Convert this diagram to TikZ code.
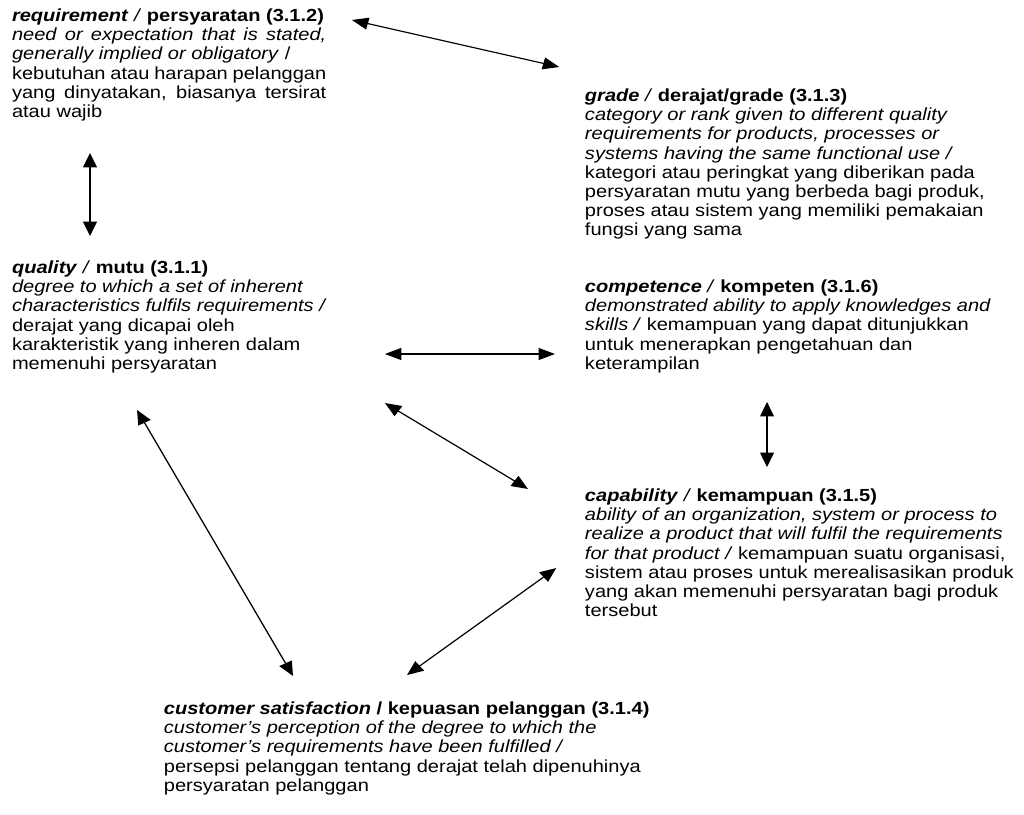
\documentclass[tikz,border=0pt]{standalone}
\usepackage{fontspec}
\setmainfont{Liberation Sans}
\usetikzlibrary{arrows.meta}

% type size and leading used by every text block
\newcommand{\blockfont}{\fontsize{17.5}{19.2}\selectfont}
% a line stretched to the full measure of the first block
\newcommand{\jline}[1]{\makebox[274.5pt][s]{#1}}
% a block of text set line by line, first baseline at the node's base
\newcommand{\textblock}[1]{\parbox[t]{600pt}{\blockfont\raggedright #1}}

\tikzset{
  blk/.style={anchor=base west, inner sep=0pt, outer sep=0pt},
  link/.style={line width=1.15pt,
    {Triangle[length=14.3pt,width=12pt]}-{Triangle[length=14.3pt,width=12pt]}}
}

\begin{document}
\begin{tikzpicture}
\useasboundingbox (0pt,0pt) rectangle (1024pt,-814pt);

% the whole sheet is set wide: everything is drawn 1.145 times wider than high
\begin{scope}[transform canvas={xscale=1.145}]

% ---- text blocks ----
\node[blk] (req) at (10.5pt,-21.5pt) {\textblock{%
  \textbf{\textit{requirement}}\textit{ / }\textbf{persyaratan (3.1.2)}\\
  \jline{\textit{need or expectation that is stated,}}\\
  \textit{generally implied or obligatory} /\\
  \jline{kebutuhan atau harapan pelanggan}\\
  \jline{yang dinyatakan, biasanya tersirat}\\
  atau wajib}};

\node[blk] (grade) at (510.9pt,-101.5pt) {\textblock{%
  \textbf{\textit{grade}}\textit{ / }\textbf{derajat/grade (3.1.3)}\\
  \textit{category or rank given to different quality}\\
  \textit{requirements for products, processes or}\\
  \textit{systems having the same functional use /}\\
  kategori atau peringkat yang diberikan pada\\
  persyaratan mutu yang berbeda bagi produk,\\
  proses atau sistem yang memiliki pemakaian\\
  fungsi yang sama}};

\node[blk] (qual) at (10.5pt,-273.5pt) {\textblock{%
  \textbf{\textit{quality}}\textit{ / }\textbf{mutu (3.1.1)}\\
  \textit{degree to which a set of inherent}\\
  \textit{characteristics fulfils requirements /}\\
  derajat yang dicapai oleh\\
  karakteristik yang inheren dalam\\
  memenuhi persyaratan}};

\node[blk] (comp) at (510.9pt,-292.5pt) {\textblock{%
  \textbf{\textit{competence}}\textit{ / }\textbf{kompeten (3.1.6)}\\
  \textit{demonstrated ability to apply knowledges and}\\
  \textit{skills /} kemampuan yang dapat ditunjukkan\\
  untuk menerapkan pengetahuan dan\\
  keterampilan}};

\node[blk] (capab) at (510.9pt,-501.5pt) {\textblock{%
  \textbf{\textit{capability}}\textit{ / }\textbf{kemampuan (3.1.5)}\\
  \textit{ability of an organization, system or process to}\\
  \textit{realize a product that will fulfil the requirements}\\
  \textit{for that product /} kemampuan suatu organisasi,\\
  sistem atau proses untuk merealisasikan produk\\
  yang akan memenuhi persyaratan bagi produk\\
  tersebut}};

\node[blk] (cust) at (143.2pt,-714.5pt) {\textblock{%
  \textbf{\textit{customer satisfaction} / kepuasan pelanggan (3.1.4)}\\
  \textit{customer’s perception of the degree to which the}\\
  \textit{customer’s requirements have been fulfilled /}\\
  persepsi pelanggan tentang derajat telah dipenuhinya\\
  persyaratan pelanggan}};

% ---- arrow ends ----
\coordinate (reqR)   at (307.4pt,-20pt);
\coordinate (gradeL) at (488.4pt,-67pt);
\coordinate (reqB)   at (78.6pt,-153pt);
\coordinate (qualT)  at (78.6pt,-236pt);
\coordinate (qualR)  at (336.2pt,-354pt);
\coordinate (compL)  at (484.7pt,-354pt);
\coordinate (compB)  at (669.9pt,-402pt);
\coordinate (capT)   at (669.9pt,-467pt);
\coordinate (qualRB) at (336.2pt,-403pt);
\coordinate (capL)   at (461.1pt,-489pt);
\coordinate (qualB)  at (119.7pt,-410pt);
\coordinate (custL)  at (255.9pt,-676pt);
\coordinate (capLB)  at (485.8pt,-568pt);
\coordinate (custR)  at (355.5pt,-675pt);

% ---- relations ----
\draw[link] (reqR) -- (gradeL);
\draw[link] (reqB) -- (qualT);
\draw[link] (qualR) -- (compL);
\draw[link] (compB) -- (capT);
\draw[link] (qualRB) -- (capL);
\draw[link] (qualB) -- (custL);
\draw[link] (capLB) -- (custR);
\end{scope}
\end{tikzpicture}
\end{document}
